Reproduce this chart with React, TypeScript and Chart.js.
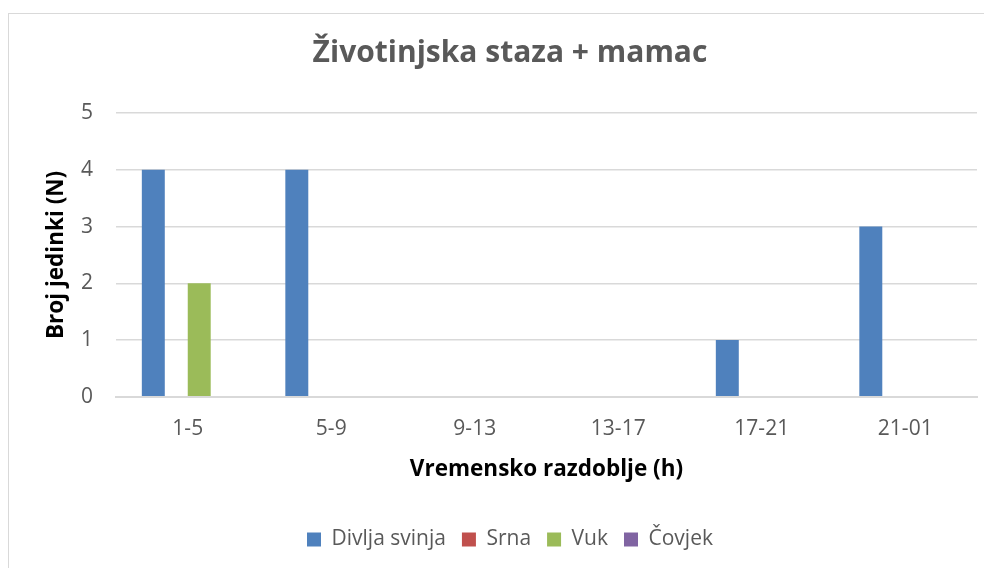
import React, { useEffect, useRef } from "react";
import { Chart, registerables } from "chart.js";

Chart.register(...registerables);

const categories = ["1-5", "5-9", "9-13", "13-17", "17-21", "21-01"];
const divljaSvinja = [4, 4, 0, 0, 1, 3];
const srna = [0, 0, 0, 0, 0, 0];
const vuk = [2, 0, 0, 0, 0, 0];
const covjek = [0, 0, 0, 0, 0, 0];
const seriesNames = ["Divlja svinja", "Srna", "Vuk", "Čovjek"];
const seriesColors = ["#4F81BD", "#C0504D", "#9BBB59", "#8064A2"];
const titleText = "Životinjska staza + mamac";
const xTitle = "Vremensko razdoblje (h)";
const yTitle = "Broj jedinki (N)";

const FONT = "'Open Sans', sans-serif";

export default function App() {
  const ref = useRef<HTMLCanvasElement>(null);
  useEffect(() => {
    document.documentElement.style.overflow = "hidden";
    document.body.style.overflow = "hidden";
    const values = [divljaSvinja, srna, vuk, covjek];
    const chart = new Chart(ref.current!, {
      type: "bar",
      data: {
        labels: categories,
        datasets: values.map((v, i) => ({
          label: seriesNames[i],
          data: v,
          backgroundColor: seriesColors[i],
          borderWidth: 0,
          barPercentage: 1,
          categoryPercentage: 0.64,
        })),
      },
      options: {
        animation: false,
        responsive: false,
        devicePixelRatio: 1,
        layout: { padding: { left: 34, right: 30, top: 21, bottom: 14 } },
        plugins: {
          title: {
            display: true,
            text: titleText,
            color: "#595959",
            font: { family: FONT, size: 30, weight: "bold" },
            padding: { top: 0, bottom: 42 },
          },
          legend: {
            position: "bottom",
            labels: {
              boxWidth: 14,
              boxHeight: 14,
              color: "#595959",
              font: { family: FONT, size: 21 },
              padding: 16,
            },
          },
          tooltip: { enabled: false },
        },
        scales: {
          x: {
            grid: { display: false, drawTicks: false },
            border: { display: true, color: "#d9d9d9", width: 2 },
            ticks: { color: "#595959", font: { family: FONT, size: 21 }, padding: 20 },
            title: {
              display: true,
              text: xTitle,
              color: "#000000",
              font: { family: FONT, size: 22.5, weight: "bold" },
              padding: { top: -6, bottom: 30 },
            },
          },
          y: {
            min: 0,
            max: 5,
            afterFit: (scale: any) => {
              scale.width = 73;
            },
            ticks: { stepSize: 1, color: "#595959", font: { family: FONT, size: 21 }, padding: 23 },
            grid: { color: "#d9d9d9", lineWidth: 1.5, drawTicks: false },
            border: { display: false },
            title: {
              display: true,
              text: yTitle,
              color: "#000000",
              font: { family: FONT, size: 22.5, weight: "bold" },
              padding: { top: 0, bottom: 11 },
            },
          },
        },
      },
    });
    return () => chart.destroy();
  }, []);
  return (
    <div
      style={{
        marginTop: 5,
        borderLeft: "1px solid #d9d9d9",
        borderTop: "1px solid #d9d9d9",
        width: 998,
        height: 560,
        background: "#fff",
      }}
    >
      <canvas ref={ref} width={998} height={560} style={{ display: "block" }} />
    </div>
  );
}
